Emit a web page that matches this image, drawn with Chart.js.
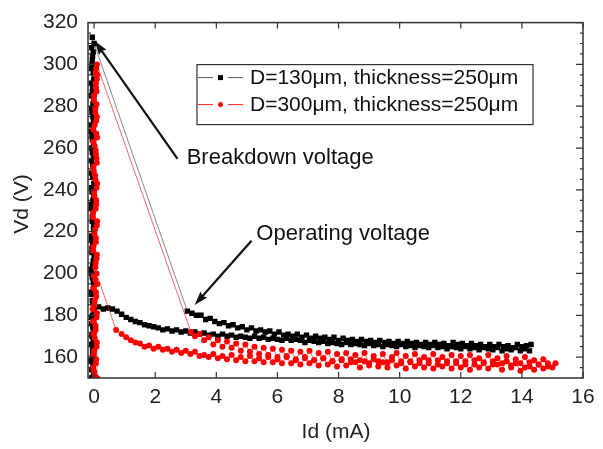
<!DOCTYPE html>
<html>
<head>
<meta charset="utf-8">
<script src="https://cdn.jsdelivr.net/npm/chart.js@4/dist/chart.umd.min.js"></script>
<style>
  body { margin: 0; background: #fff; }
  canvas { display: block; }
</style>
</head>
<body>
<canvas id="vdChart" width="603" height="449"></canvas>
<script>
// axis ticks
const xTicks = [0, 2, 4, 6, 8, 10, 12, 14, 16];
const yTicks = [160, 180, 200, 220, 240, 260, 280, 300, 320];

const blackRise = [
    [-0.08, 150], [-0.03, 154], [-0.1, 158], [-0.05, 162], [-0.01, 167], [-0.07, 171], [-0.04, 175], [-0.09, 179],
    [-0.02, 183], [-0.06, 187], [-0.1, 191], [-0.03, 196], [-0.08, 200], [-0.05, 204], [0.0, 208], [-0.07, 212],
    [-0.09, 216], [-0.02, 221], [-0.06, 225], [-0.04, 229], [-0.1, 233], [-0.01, 237], [-0.08, 241], [-0.05, 246],
    [-0.03, 250], [-0.09, 254], [-0.06, 258], [-0.02, 262], [-0.07, 266], [-0.1, 271], [-0.04, 275], [-0.08, 279],
    [-0.01, 283], [-0.06, 287], [-0.09, 291], [-0.03, 296], [-0.07, 300], [-0.05, 304], [-0.08, 308], [-0.06, 313],
    [0.0, 310]
];
const blackUp = [
    [3.05, 182], [3.2, 181], [3.35, 180], [3.5, 180], [3.65, 178], [3.8, 178.5], [3.95, 177], [4.1, 176],
    [4.25, 176.5], [4.4, 175], [4.55, 175.5], [4.7, 174], [4.85, 174.5], [5.0, 173], [5.15, 174], [5.3, 172.5],
    [5.45, 173], [5.6, 172], [5.75, 172.5], [5.9, 171], [6.05, 172], [6.2, 170.5], [6.35, 171], [6.5, 170],
    [6.65, 171], [6.8, 169.5], [6.95, 170.5], [7.1, 169], [7.25, 170], [7.4, 169], [7.55, 169.5], [7.7, 168.5],
    [7.85, 169.5], [8.0, 168], [8.15, 169], [8.3, 168], [8.45, 168.5], [8.6, 167.5], [8.75, 168.5], [8.9, 167.5],
    [9.05, 168], [9.2, 167], [9.35, 168], [9.5, 167], [9.65, 167.5], [9.8, 166.5], [9.95, 167.5], [10.1, 166.5],
    [10.25, 167.5], [10.4, 166.5], [10.55, 167], [10.7, 166], [10.85, 167], [11.0, 166], [11.15, 167], [11.3, 166],
    [11.45, 166.5], [11.6, 165.5], [11.75, 167], [11.9, 166], [12.05, 166.5], [12.2, 165.5], [12.35, 166.5], [12.5, 165.5],
    [12.65, 166], [12.8, 165], [12.95, 166], [13.1, 165], [13.25, 166], [13.4, 165], [13.55, 165.5], [13.7, 164.5],
    [13.85, 166], [14.0, 165], [14.15, 165.5], [14.3, 166]
];
const blackDown = [
    [14.25, 163], [14.1, 164], [13.95, 163], [13.8, 164.5], [13.65, 163.5], [13.5, 164], [13.35, 163], [13.2, 164.5],
    [13.05, 163.5], [12.9, 164], [12.75, 164.5], [12.6, 163.5], [12.45, 164.5], [12.3, 164], [12.15, 165], [12.0, 164],
    [11.85, 164.5], [11.7, 165], [11.55, 164], [11.4, 165], [11.25, 164.5], [11.1, 165.5], [10.95, 164.5], [10.8, 165],
    [10.65, 165.5], [10.5, 164.5], [10.35, 165.5], [10.2, 165], [10.05, 166], [9.9, 165], [9.75, 165.5], [9.6, 166],
    [9.45, 165], [9.3, 166], [9.15, 165.5], [9.0, 166.5], [8.85, 165.5], [8.7, 166], [8.55, 166.5], [8.4, 166],
    [8.25, 167], [8.1, 166], [7.95, 166.5], [7.8, 167], [7.65, 166.5], [7.5, 167.5], [7.35, 167], [7.2, 167.5],
    [7.05, 168], [6.9, 167], [6.75, 168], [6.6, 168.5], [6.45, 168], [6.3, 169], [6.15, 168], [6.0, 168.5],
    [5.85, 169], [5.7, 168.5], [5.55, 169.5], [5.4, 169], [5.25, 170], [5.1, 169], [4.95, 169.5], [4.8, 170],
    [4.65, 169.5], [4.5, 170.5], [4.35, 170], [4.2, 171], [4.05, 170], [3.9, 171], [3.75, 170.5], [3.6, 171.5],
    [3.45, 171], [3.3, 172], [3.15, 171.5], [3.0, 172.5], [2.85, 172], [2.7, 173], [2.55, 172.5], [2.4, 173.5],
    [2.25, 173], [2.1, 174], [1.95, 174.5], [1.8, 175], [1.65, 175.5], [1.5, 176.5], [1.35, 177], [1.2, 178],
    [1.05, 179], [0.9, 180.5], [0.75, 182], [0.6, 183], [0.45, 183.5], [0.3, 183], [0.15, 184]
];
const blackFall = [
    [0.0, 182], [-0.05, 180], [-0.02, 178], [-0.08, 176], [-0.04, 174], [0.0, 172], [-0.07, 170], [-0.03, 168],
    [-0.09, 166], [-0.05, 164], [-0.01, 162], [-0.06, 160], [-0.1, 158], [-0.04, 156], [-0.08, 154], [-0.02, 152],
    [-0.07, 150], [-0.04, 186], [-0.09, 190], [-0.01, 194], [-0.06, 198], [-0.1, 202], [-0.03, 206], [-0.07, 210],
    [-0.05, 214], [-0.08, 218], [-0.02, 223], [-0.06, 227], [-0.1, 231], [-0.04, 235], [-0.07, 239], [-0.01, 243],
    [-0.09, 248], [-0.05, 252], [-0.03, 256], [-0.08, 260], [-0.06, 264], [-0.1, 268], [-0.02, 273], [-0.07, 277],
    [-0.04, 281], [-0.09, 285], [-0.05, 289], [-0.01, 293], [-0.08, 298], [-0.06, 302], [-0.03, 306]
];

// D=300um
const redRise = [
    [0.03, 151], [-0.04, 155], [0.07, 159], [0.0, 163], [0.09, 167], [-0.02, 171], [0.05, 175], [0.08, 179],
    [-0.05, 183], [0.02, 187], [0.06, 191], [0.1, 195], [-0.01, 199], [0.04, 203], [0.08, 207], [-0.03, 211],
    [0.06, 215], [0.01, 219], [0.09, 223], [-0.04, 227], [0.05, 231], [0.07, 235], [0.0, 239], [0.1, 243],
    [0.03, 247], [-0.02, 251], [0.08, 255], [0.05, 259], [-0.03, 263], [0.07, 267], [0.02, 271], [0.09, 275],
    [0.04, 279], [-0.01, 283], [0.08, 287], [0.06, 291], [0.1, 295], [0.07, 298], [0.09, 300]
];
const redUp = [
    [3.17, 172], [3.3, 170], [3.45, 171], [3.6, 168], [3.75, 169.5], [3.9, 166], [4.05, 168], [4.2, 165],
    [4.35, 167.5], [4.5, 164.5], [4.65, 166.5], [4.8, 163], [4.95, 166], [5.1, 162.5], [5.25, 165], [5.4, 161.5],
    [5.55, 164.5], [5.7, 161], [5.85, 164], [6.0, 160], [6.15, 163.5], [6.3, 160.5], [6.45, 163], [6.6, 159],
    [6.75, 162.5], [6.9, 160], [7.05, 163], [7.2, 158.5], [7.35, 162], [7.5, 159.5], [7.65, 162.5], [7.8, 158],
    [7.95, 161.5], [8.1, 159], [8.25, 162], [8.4, 157.5], [8.55, 161], [8.7, 158.5], [8.85, 162], [9.0, 157],
    [9.15, 160.5], [9.3, 158], [9.45, 161.5], [9.6, 157.5], [9.75, 160], [9.9, 162], [10.05, 157], [10.2, 160.5],
    [10.35, 158], [10.5, 161.5], [10.65, 157], [10.8, 160], [10.95, 158.5], [11.1, 161.5], [11.25, 156.5], [11.4, 160],
    [11.55, 158], [11.7, 161], [11.85, 157], [12.0, 160.5], [12.15, 158], [12.3, 161], [12.45, 156.5], [12.6, 159.5],
    [12.75, 157.5], [12.9, 161], [13.05, 156.5], [13.2, 159.5], [13.35, 157], [13.5, 160.5], [13.65, 156], [13.8, 159],
    [13.95, 157], [14.1, 160], [14.25, 155.5], [14.4, 158.5], [14.55, 156.5], [14.7, 159], [14.85, 155.5], [15.1, 157]
];
const redDown = [
    [15.0, 155], [14.85, 157], [14.7, 154.5], [14.55, 156.5], [14.4, 154], [14.25, 157.5], [14.1, 155], [13.95, 153.5],
    [13.8, 157], [13.65, 155], [13.5, 158], [13.35, 154], [13.2, 156.5], [13.05, 158], [12.9, 154.5], [12.75, 157],
    [12.6, 155], [12.45, 158.5], [12.3, 154], [12.15, 156.5], [12.0, 155], [11.85, 158], [11.7, 154.5], [11.55, 157],
    [11.4, 155.5], [11.25, 158.5], [11.1, 154.5], [10.95, 157], [10.8, 155], [10.65, 158.5], [10.5, 155.5], [10.35, 157.5],
    [10.2, 154.5], [10.05, 158], [9.9, 156], [9.75, 158.5], [9.6, 155], [9.45, 157.5], [9.3, 155.5], [9.15, 159],
    [9.0, 156], [8.85, 158], [8.7, 155], [8.55, 157.5], [8.4, 159], [8.25, 156], [8.1, 158.5], [7.95, 155.5],
    [7.8, 158], [7.65, 156.5], [7.5, 159.5], [7.35, 156], [7.2, 158.5], [7.05, 157], [6.9, 159.5], [6.75, 156.5],
    [6.6, 158.5], [6.45, 157], [6.3, 160], [6.15, 157], [6.0, 159], [5.85, 157.5], [5.7, 160], [5.55, 157.5],
    [5.4, 159.5], [5.25, 158], [5.1, 160.5], [4.95, 158], [4.8, 160], [4.65, 158.5], [4.5, 161], [4.35, 159],
    [4.2, 160.5], [4.05, 159.5], [3.9, 161.5], [3.75, 160], [3.6, 161], [3.45, 160.5], [3.3, 162.5], [3.15, 161.5],
    [3.0, 163], [2.85, 162], [2.7, 163.5], [2.55, 162.5], [2.4, 164], [2.25, 163.5], [2.1, 165], [1.95, 164],
    [1.8, 165.5], [1.65, 165], [1.5, 166.5], [1.35, 167], [1.2, 168], [1.05, 169.5], [0.9, 171], [0.72, 173]
];
const redFall = [
    [0.08, 200], [0.04, 197], [-0.03, 193], [0.07, 189], [0.01, 185], [0.09, 181], [-0.04, 177], [0.05, 173],
    [0.02, 169], [0.08, 165], [-0.02, 161], [0.06, 157], [0.0, 153], [0.1, 150], [0.05, 205], [0.09, 209],
    [-0.02, 213], [0.06, 217], [0.03, 221], [0.1, 225], [-0.04, 229], [0.07, 233], [0.01, 237], [0.08, 241],
    [0.04, 245], [-0.01, 249], [0.09, 253], [0.06, 257], [0.02, 261], [0.1, 265], [-0.03, 269], [0.07, 273],
    [0.04, 277], [0.08, 281], [0.0, 285], [0.06, 289], [0.09, 293], [0.05, 296]
];

const seriesNames = ["D=130μm, thickness=250μm", "D=300μm, thickness=250μm"];

const notes = [
    { text: "Breakdown voltage", tail: [2.73, 254.8], head: [0.02, 311.2], at: [3.03, 255.3] },
    { text: "Operating voltage", tail: [5.15, 215.7], head: [3.29, 184.9], at: [5.31, 218.9] }
];

const FONT = "'Liberation Sans', Arial, sans-serif";

function toPoints(...parts) {
    return [].concat(...parts).map(p => ({ x: p[0], y: p[1] }));
}

function drawArrow(ctx, x1, y1, x2, y2) {
    const a = Math.atan2(y2 - y1, x2 - x1);
    const len = 14, half = 4.5;
    const bx = x2 - len * Math.cos(a), by = y2 - len * Math.sin(a);
    ctx.beginPath();
    ctx.moveTo(x1, y1);
    ctx.lineTo(bx + 4 * Math.cos(a), by + 4 * Math.sin(a));
    ctx.lineWidth = 2.2;
    ctx.strokeStyle = "#111";
    ctx.stroke();
    ctx.beginPath();
    ctx.moveTo(x2, y2);
    ctx.lineTo(bx - half * Math.sin(a), by + half * Math.cos(a));
    ctx.lineTo(bx + 2 * Math.cos(a), by + 2 * Math.sin(a));
    ctx.lineTo(bx + half * Math.sin(a), by - half * Math.cos(a));
    ctx.closePath();
    ctx.fillStyle = "#111";
    ctx.fill();
}

const extras = {
    id: "extras",
    afterDraw(chart) {
        const ctx = chart.ctx;
        const area = chart.chartArea;
        const xs = chart.scales.x, ys = chart.scales.y;
        ctx.save();

        // frame
        ctx.strokeStyle = "#333";
        ctx.lineWidth = 1.5;
        ctx.strokeRect(area.left, area.top, area.right - area.left, area.bottom - area.top);

        // inward ticks
        ctx.lineWidth = 1.2;
        ctx.beginPath();
        xTicks.forEach(v => {
            const px = xs.getPixelForValue(v);
            ctx.moveTo(px, area.bottom); ctx.lineTo(px, area.bottom - 6);
            ctx.moveTo(px, area.top); ctx.lineTo(px, area.top + 6);
        });
        for (let v = 150; v <= 320; v += 5) {
            const py = ys.getPixelForValue(v);
            const l = yTicks.includes(v) ? 7 : 3;
            ctx.moveTo(area.left, py); ctx.lineTo(area.left + l, py);
            ctx.moveTo(area.right, py); ctx.lineTo(area.right - l, py);
        }
        ctx.stroke();

        // annotations
        notes.forEach(n => {
            drawArrow(ctx, xs.getPixelForValue(n.tail[0]), ys.getPixelForValue(n.tail[1]),
                xs.getPixelForValue(n.head[0]), ys.getPixelForValue(n.head[1]));
            ctx.fillStyle = "#111";
            ctx.font = "22px " + FONT;
            ctx.textAlign = "left";
            ctx.textBaseline = "middle";
            ctx.fillText(n.text, xs.getPixelForValue(n.at[0]), ys.getPixelForValue(n.at[1]));
        });

        // legend box
        const lx = area.left + 109, ly = area.top + 42, lw = 336, lh = 60;
        ctx.fillStyle = "#fff";
        ctx.fillRect(lx, ly, lw, lh);
        ctx.strokeStyle = "#333";
        ctx.lineWidth = 1.2;
        ctx.strokeRect(lx, ly, lw, lh);
        chart.data.datasets.forEach((ds, i) => {
            const cy = ly + 13 + i * 27;
            ctx.strokeStyle = ds.borderColor;
            ctx.lineWidth = 1;
            ctx.beginPath();
            ctx.moveTo(lx + 1, cy); ctx.lineTo(lx + 16, cy);
            ctx.moveTo(lx + 31, cy); ctx.lineTo(lx + 46, cy);
            ctx.stroke();
            ctx.fillStyle = ds.backgroundColor;
            if (ds.pointStyle === "rect") {
                ctx.fillRect(lx + 21, cy - 2.5, 5, 5);
            } else {
                ctx.beginPath();
                ctx.arc(lx + 23.5, cy, 2.5, 0, Math.PI * 2);
                ctx.fill();
            }
            ctx.fillStyle = "#111";
            ctx.font = "21px " + FONT;
            ctx.textAlign = "left";
            ctx.textBaseline = "middle";
            ctx.fillText(ds.label, lx + 53, cy + 1);
        });

        // axis titles
        ctx.fillStyle = "#222";
        ctx.font = "21px " + FONT;
        ctx.textAlign = "center";
        ctx.textBaseline = "middle";
        ctx.fillText("Id (mA)", 336, 432);
        ctx.translate(22, 204);
        ctx.rotate(-Math.PI / 2);
        ctx.fillText("Vd (V)", 0, 0);
        ctx.restore();
    }
};

const ctx = document.getElementById("vdChart").getContext("2d");

new Chart(ctx, {
    type: "scatter",
    data: {
        datasets: [
            {
                label: seriesNames[0],
                data: toPoints(blackRise, blackUp, blackDown, blackFall),
                showLine: true,
                borderColor: "#555",
                borderWidth: 0.7,
                backgroundColor: "#000",
                pointStyle: "rect",
                pointRadius: 3.8,
                pointBorderWidth: 0,
                order: 1
            },
            {
                label: seriesNames[1],
                data: toPoints(redRise, redUp, redDown, redFall),
                showLine: true,
                borderColor: "#ff2020",
                borderWidth: 0.7,
                backgroundColor: "#ff0000",
                pointStyle: "circle",
                pointRadius: 3,
                pointBorderWidth: 0,
                order: 0
            }
        ]
    },
    options: {
        responsive: false,
        animation: false,
        devicePixelRatio: 1,
        layout: { padding: { left: 0, right: 20, top: 13, bottom: 0 } },
        plugins: {
            legend: { display: false },
            tooltip: { enabled: false }
        },
        scales: {
            x: {
                type: "linear",
                min: -0.2,
                max: 16,
                grid: { display: false, drawTicks: false },
                border: { display: false },
                afterBuildTicks: s => { s.ticks = xTicks.map(v => ({ value: v })); },
                afterFit: s => { s.height = 71; },
                ticks: {
                    padding: 7,
                    color: "#222",
                    font: { family: FONT, size: 21 }
                }
            },
            y: {
                type: "linear",
                min: 150,
                max: 320,
                grid: { display: false, drawTicks: false },
                border: { display: false },
                afterBuildTicks: s => { s.ticks = yTicks.map(v => ({ value: v })); },
                afterFit: s => { s.width = 88; },
                ticks: {
                    padding: 10,
                    color: "#222",
                    font: { family: FONT, size: 21 }
                }
            }
        }
    },
    plugins: [extras]
});
</script>
</body>
</html>
